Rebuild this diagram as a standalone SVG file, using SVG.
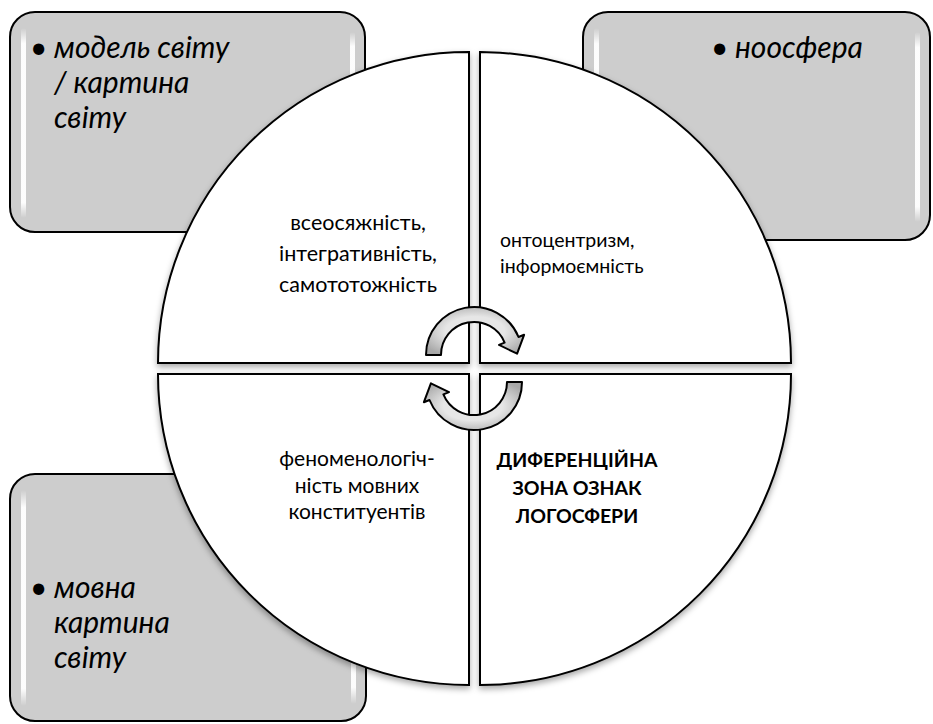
<svg xmlns="http://www.w3.org/2000/svg" width="933" height="724" viewBox="0 0 933 724">
<defs>
<style>
.box{fill:#cdcdcd;stroke:#000;stroke-width:2}
.gl{fill:url(#gloss)}
.q{fill:#fff;stroke:#000;stroke-width:2}
.it{font-family:Lato,"Liberation Sans",sans-serif;font-style:italic;font-size:30px;fill:#000}
.t{font-family:Lato,"Liberation Sans",sans-serif;font-size:21.5px;fill:#000}
.ts{font-family:Lato,"Liberation Sans",sans-serif;font-size:19.5px;fill:#000}
.tb{font-family:Lato,"Liberation Sans",sans-serif;font-size:21px;fill:#000}
.b{font-family:Lato,"Liberation Sans",sans-serif;font-weight:bold;font-size:19.5px;fill:#000;text-anchor:middle}
.arr{fill:url(#ag);stroke:#000;stroke-width:2;stroke-linejoin:round}
</style>
<linearGradient id="gloss" x1="0" y1="0" x2="0" y2="1">
<stop offset="0" stop-color="#fff" stop-opacity="0"/>
<stop offset="0.08" stop-color="#fff" stop-opacity="0.95"/>
<stop offset="0.92" stop-color="#fff" stop-opacity="0.95"/>
<stop offset="1" stop-color="#fff" stop-opacity="0"/>
</linearGradient>
<radialGradient id="ag" cx="0.5" cy="0.5" r="0.6">
<stop offset="0.5" stop-color="#e6e6e6"/>
<stop offset="1" stop-color="#a8a8a8"/>
</radialGradient>
<filter id="sh" x="-10%" y="-10%" width="120%" height="125%">
<feDropShadow dx="0" dy="3" stdDeviation="3" flood-color="#000" flood-opacity="0.35"/>
</filter>
<path id="arrow" d="M-48,0 A48,48 0 0 1 44.5,-18 L50.1,-20.2 L43.1,-1.3 L25,-10.1 L30.6,-12.4 A33,33 0 0 0 -33,0 Z"/>
</defs>
<rect width="933" height="724" fill="#fff"/>

<g id="box-model">
<rect class="box" x="10" y="12" width="355" height="220" rx="25"/>
<rect class="gl" x="21" y="28" width="5" height="190" rx="2.5"/>
<rect class="gl" x="350" y="32" width="5" height="180" rx="2.5"/>
<text class="it" x="30" y="58">•</text>
<text class="it" x="54" y="58">модель світу</text>
<text class="it" x="54" y="93">/ картина</text>
<text class="it" x="54" y="128">світу</text>
</g>

<g id="box-noosfera">
<rect class="box" x="583" y="12" width="347" height="228" rx="25"/>
<rect class="gl" x="594" y="28" width="5" height="196" rx="2.5"/>
<rect class="gl" x="915" y="32" width="5" height="190" rx="2.5"/>
<text class="it" x="711" y="58">•</text>
<text class="it" x="735" y="58">ноосфера</text>
</g>

<g id="box-movna">
<rect class="box" x="10" y="474" width="356" height="247" rx="25"/>
<rect class="gl" x="21" y="490" width="5" height="216" rx="2.5"/>
<rect class="gl" x="351" y="494" width="5" height="210" rx="2.5"/>
<text class="it" x="30" y="598">•</text>
<text class="it" x="54" y="598">мовна</text>
<text class="it" x="54" y="633">картина</text>
<text class="it" x="54" y="668">світу</text>
</g>

<g id="q-tl">
<path class="q" filter="url(#sh)" d="M469,363 L158,363 A311,311 0 0 1 469,52 Z"/>
<text class="t" text-anchor="middle" x="358" y="230">всеосяжність,</text>
<text class="t" text-anchor="middle" x="358" y="261">інтегративність,</text>
<text class="t" text-anchor="middle" x="358" y="292">самототожність</text>
</g>

<g id="q-tr">
<path class="q" filter="url(#sh)" d="M480,363 L480,52 A311,311 0 0 1 791,363 Z"/>
<text class="ts" x="500" y="247">онтоцентризм,</text>
<text class="ts" x="500" y="273">інформоємність</text>
</g>

<g id="q-bl">
<path class="q" filter="url(#sh)" d="M469,374 L469,685 A311,311 0 0 1 158,374 Z"/>
<text class="tb" text-anchor="middle" x="357" y="466">феноменологіч-</text>
<text class="tb" text-anchor="middle" x="357" y="493">ність мовних</text>
<text class="tb" text-anchor="middle" x="357" y="519">конституентів</text>
</g>

<g id="q-br">
<path class="q" filter="url(#sh)" d="M480,374 L791,374 A311,311 0 0 1 480,685 Z"/>
<text class="b" x="577" y="467">ДИФЕРЕНЦІЙНА</text>
<text class="b" x="577" y="495">ЗОНА ОЗНАК</text>
<text class="b" x="577" y="523">ЛОГОСФЕРИ</text>
</g>

<g id="connectors">
<use href="#arrow" class="arr" transform="translate(474,355)"/>
<use href="#arrow" class="arr" transform="translate(474,382) rotate(180)"/>
</g>
</svg>
